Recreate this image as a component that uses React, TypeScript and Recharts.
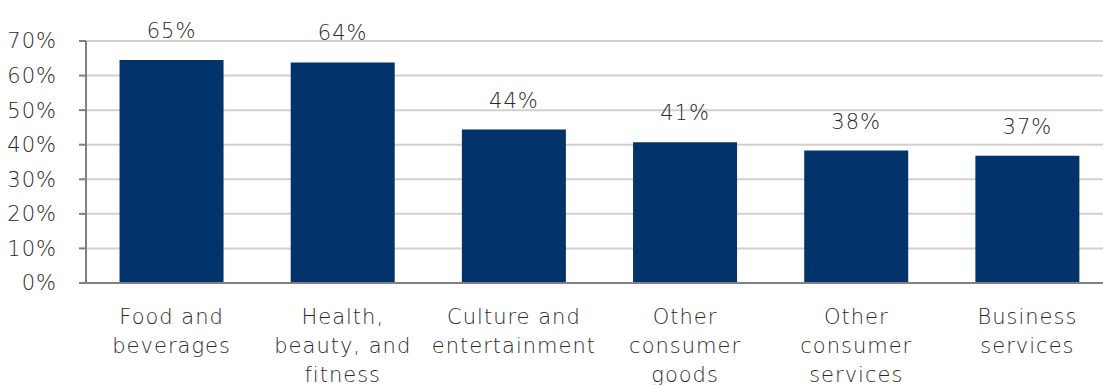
import { BarChart, Bar, XAxis, YAxis, CartesianGrid, LabelList } from 'recharts'

const categories = [
  'Food and\nbeverages',
  'Health,\nbeauty, and\nfitness',
  'Culture and\nentertainment',
  'Other\nconsumer\ngoods',
  'Other\nconsumer\nservices',
  'Business\nservices',
]
const shares = [64.5, 63.8, 44.4, 40.7, 38.3, 36.8]
const yTicks = [0, 10, 20, 30, 40, 50, 60, 70]

const data = categories.map((name, i) => ({ name, value: shares[i] }))

const FONT = '"DejaVu Sans", "Noto Sans", sans-serif'
const TEXT = '#2a2a2a'
const textStyle = { fill: TEXT, fontFamily: FONT, fontSize: 21, fontWeight: 300, letterSpacing: 1 }

function CategoryTick({ x, y, payload }: any) {
  const lines = String(payload.value).split('\n')
  return (
    <text x={x} y={y} textAnchor="middle" style={textStyle}>
      {lines.map((line, i) => (
        <tspan key={i} x={x} dy={i === 0 ? 33 : 29}>
          {line}
        </tspan>
      ))}
    </text>
  )
}

export default function App() {
  // the source crops the plot on its right edge, so the chart is a bit wider than the frame
  return (
    <div style={{ position: 'absolute', left: 0, top: 0, width: 1103, height: 385, overflow: 'hidden', background: '#fff' }}>
      <BarChart
        width={1113}
        height={385}
        data={data}
        margin={{ top: 41, right: 0, bottom: 0, left: 0 }}
        barCategoryGap="19.6%"
      >
        <CartesianGrid vertical={false} stroke="#d3d0cc" strokeWidth={2} />
        <XAxis
          dataKey="name"
          interval={0}
          tickLine={false}
          axisLine={{ stroke: '#808080', strokeWidth: 2 }}
          tick={<CategoryTick />}
          height={102}
        />
        <YAxis
          domain={[0, 70]}
          ticks={yTicks}
          interval={0}
          width={86}
          tickSize={7}
          tickMargin={22}
          tickLine={{ stroke: '#808080', strokeWidth: 2 }}
          axisLine={{ stroke: '#808080', strokeWidth: 2 }}
          tickFormatter={(v: number) => `${v}%`}
          tick={textStyle}
        />
        <Bar dataKey="value" fill="#02336a" isAnimationActive={false}>
          <LabelList
            dataKey="value"
            position="top"
            offset={22}
            formatter={(v: any) => `${Math.round(Number(v))}%`}
            style={textStyle}
          />
        </Bar>
      </BarChart>
    </div>
  )
}
